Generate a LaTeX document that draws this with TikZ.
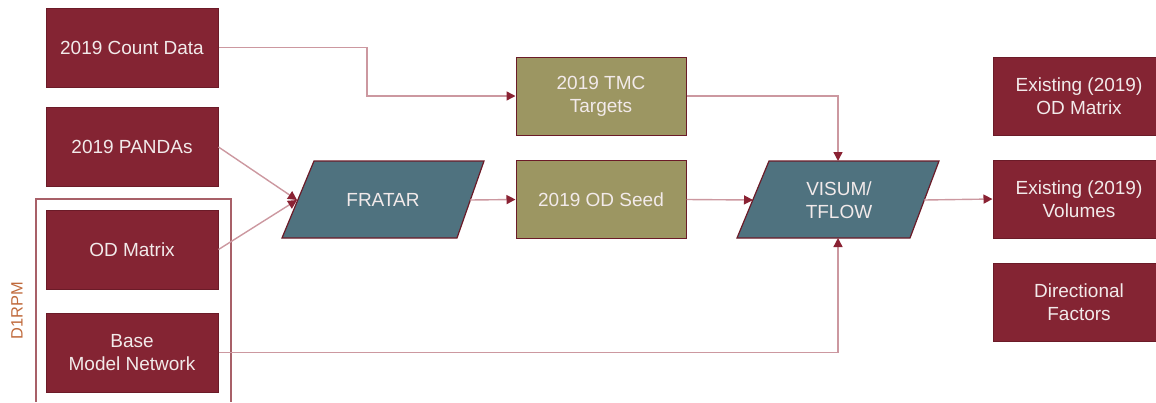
\documentclass[tikz,border=0pt]{standalone}
\usepackage{fontspec}
\setmainfont{Liberation Sans}
\usetikzlibrary{arrows.meta,calc}
\definecolor{maroonfill}{HTML}{842433}
\definecolor{maroonline}{HTML}{6B1B28}
\definecolor{olivefill}{HTML}{9C9662}
\definecolor{tealfill}{HTML}{4F727F}
\definecolor{linkc}{HTML}{CC98A0}
\definecolor{tipc}{HTML}{8A2233}
\definecolor{bracketc}{HTML}{A86068}
\definecolor{labelc}{HTML}{C06A3C}
\definecolor{textc}{HTML}{F2EAEA}
\tikzset{
  box/.style={draw=maroonline, line width=0.5pt, inner sep=0pt, align=center, text=textc,
    minimum width=86pt, minimum height=39.5pt},
  redbox/.style={box, fill=maroonfill},
  olivebox/.style={box, fill=olivefill, minimum width=85pt, minimum height=39pt},
  outbox/.style={redbox, minimum width=86pt, minimum height=39pt},
  para/.style={draw=maroonline, line width=0.6pt, fill=tealfill},
  paratext/.style={text=textc, align=center, inner sep=0pt},
  link/.style={draw=linkc, line width=0.7pt, -{Triangle[length=4.5pt,width=4.5pt,color=tipc,fill=tipc]}},
  bracket/.style={draw=bracketc, line width=0.6pt}
}
\begin{document}
\begin{tikzpicture}[x=0.5pt,y=-0.5pt,font=\fontsize{9.5}{11.5}\selectfont]
\useasboundingbox (0,0) rectangle (1156,402);
\begin{scope}
\clip (0,0) rectangle (1156,402);
% D1RPM group
\draw[bracket] (36,402) -- (36,199) -- (231,199) -- (231,402);
\node[rotate=90, text=labelc, font=\fontsize{8.2}{10}\selectfont] (d1rpm) at (17,311) {D1RPM};
% left boxes
\node[redbox] (count) at (132,47.5) {2019 Count Data};
\node[redbox] (pandas) at (132,147) {2019 PANDAs};
\node[redbox] (odm) at (132,249.5) {OD Matrix};
\node[redbox] (base) at (132,352.5) {Base\\Model Network};
% FRATAR
\draw[para] (314,161) -- (484,161) -- (457,238) -- (282,238) -- cycle;
\node[paratext] (fratar) at (383,200) {FRATAR};
\coordinate (fratarL) at (297,200);
\coordinate (fratarR) at (470,200);
% middle boxes
\node[olivebox] (tmc) at (601,96) {2019 TMC\\Targets};
\node[olivebox] (seed) at (601,199.5) {2019 OD Seed};
% VISUM
\draw[para] (769,161) -- (939,161) -- (910,238) -- (737,238) -- cycle;
\node[paratext] (visum) at (839,200) {VISUM/\\TFLOW};
\coordinate (visL) at (753,200);
\coordinate (visR) at (924,200);
\coordinate (visT) at (838,161);
\coordinate (visB) at (838,238);
% right boxes
\node[outbox] (exod) at (1079,96.5) {Existing (2019)\\OD Matrix};
\node[outbox] (exvol) at (1079,199) {Existing (2019)\\Volumes};
\node[outbox] (dirf) at (1079,302.5) {Directional\\Factors};
% connectors
\draw[link] (count.east) -| ($(count.east)!0.5!(tmc.west)$) |- (tmc.west);
\draw[link] (pandas.east) -- (fratarL);
\draw[link] (odm.east) -- (fratarL);
\draw[link] (fratarR) -- (seed.west);
\draw[link] (tmc.east) -| (visT);
\draw[link] (seed.east) -- (visL);
\draw[link] (visR) -- (exvol.west);
\draw[link] (base.east) -| (visB);
\end{scope}
\end{tikzpicture}
\end{document}
